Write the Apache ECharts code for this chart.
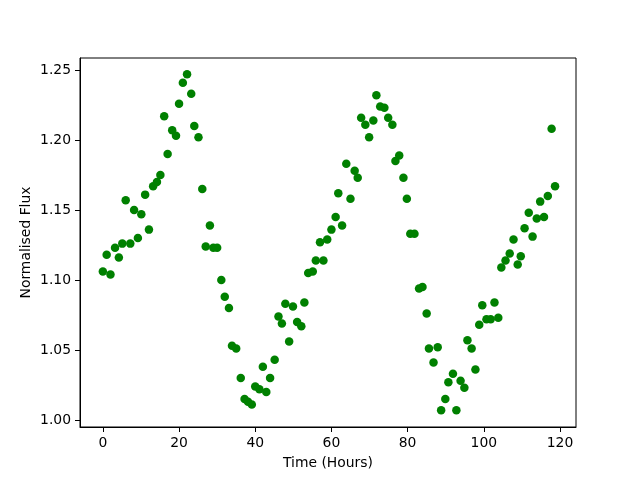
<!DOCTYPE html>
<html>
<head>
<meta charset="utf-8">
<script src="https://cdn.jsdelivr.net/npm/echarts@6/dist/echarts.min.js"></script>
<style>
  html, body { margin: 0; padding: 0; background: #fff; }
  #chart { width: 640px; height: 480px; }
</style>
</head>
<body>
<div id="chart"></div>
<script>
// time of each sample, hours
const hours = [
  0.0, 1.0, 2.0, 3.2, 4.2, 5.1, 6.0, 7.2, 8.2, 9.2,
  10.1, 11.1, 12.1, 13.2, 14.2, 15.1, 16.1, 17.0, 18.2, 19.2,
  20.0, 21.0, 22.1, 23.2, 24.0, 25.1, 26.1, 27.0, 28.1, 29.0,
  30.0, 31.1, 32.0, 33.1, 33.9, 35.0, 36.2, 37.2, 38.1, 39.1,
  40.0, 41.1, 42.0, 42.9, 43.9, 45.1, 46.1, 47.0, 47.9, 48.9,
  49.9, 51.0, 52.1, 52.9, 53.9, 55.1, 55.9, 57.0, 57.9, 58.9,
  60.0, 61.1, 61.8, 62.8, 63.9, 65.0, 66.1, 66.9, 67.8, 68.9,
  69.9, 71.0, 71.8, 72.8, 73.9, 74.9, 76.0, 76.8, 77.8, 78.9,
  79.8, 80.7, 81.8, 83.0, 83.9, 85.0, 85.6, 86.8, 87.9, 88.8,
  89.9, 90.7, 91.9, 92.8, 93.9, 94.9, 95.7, 96.8, 97.8, 98.8,
  99.6, 100.7, 101.8, 102.8, 103.8, 104.6, 105.7, 106.8, 107.8, 108.9,
  109.7, 110.7, 111.8, 112.8, 113.9, 114.8, 115.8, 116.8, 117.8, 118.7
];

// normalised flux at each sample
const flux = [
  1.106, 1.118, 1.104, 1.123, 1.116, 1.126, 1.157, 1.126, 1.150, 1.130,
  1.147, 1.161, 1.136, 1.167, 1.170, 1.175, 1.217, 1.190, 1.207, 1.203,
  1.226, 1.241, 1.247, 1.233, 1.210, 1.202, 1.165, 1.124, 1.139, 1.123,
  1.123, 1.100, 1.088, 1.080, 1.053, 1.051, 1.030, 1.015, 1.013, 1.011,
  1.024, 1.022, 1.038, 1.020, 1.030, 1.043, 1.074, 1.069, 1.083, 1.056,
  1.081, 1.070, 1.067, 1.084, 1.105, 1.106, 1.114, 1.127, 1.114, 1.129,
  1.136, 1.145, 1.162, 1.139, 1.183, 1.158, 1.178, 1.173, 1.216, 1.211,
  1.202, 1.214, 1.232, 1.224, 1.223, 1.216, 1.211, 1.185, 1.189, 1.173,
  1.158, 1.133, 1.133, 1.094, 1.095, 1.076, 1.051, 1.041, 1.052, 1.007,
  1.015, 1.027, 1.033, 1.007, 1.028, 1.023, 1.057, 1.051, 1.036, 1.068,
  1.082, 1.072, 1.072, 1.084, 1.073, 1.109, 1.114, 1.119, 1.129, 1.111,
  1.117, 1.137, 1.148, 1.131, 1.144, 1.156, 1.145, 1.160, 1.208, 1.167
];

const xTicks = [0, 20, 40, 60, 80, 100, 120];
const yTicks = [1.00, 1.05, 1.10, 1.15, 1.20, 1.25];

const points = hours.map((h, i) => [h, flux[i]]);

const font = 'DejaVu Sans';
const chart = echarts.init(document.getElementById('chart'), null, {renderer: 'canvas'});

const option = {
    animation: false,
    backgroundColor: '#fff',
    grid: {
        left: 80,
        right: 64,
        top: 58,
        bottom: 53,
        show: true,
        borderColor: '#000',
        borderWidth: 1,
        backgroundColor: 'transparent'
    },
    xAxis: {
        type: 'value',
        min: -6,
        max: 124.2,
        name: 'Time (Hours)',
        nameLocation: 'middle',
        nameGap: 29,
        nameMoveOverlap: false,
        nameTextStyle: {fontFamily: font, fontSize: 13.9, color: '#000'},
        axisLine: {show: true, onZero: false, lineStyle: {color: '#000', width: 1}},
        axisTick: {show: true, length: 5, inside: false, customValues: xTicks, lineStyle: {color: '#000'}},
        axisLabel: {
            customValues: xTicks,
            margin: 9,
            fontFamily: font,
            fontSize: 13.9,
            color: '#000',
            formatter: v => String(v)
        },
        splitLine: {show: false}
    },
    yAxis: {
        type: 'value',
        min: 0.995,
        max: 1.2586,
        name: 'Normalised Flux',
        nameLocation: 'middle',
        nameGap: 47,
        nameMoveOverlap: false,
        nameTextStyle: {fontFamily: font, fontSize: 13.9, color: '#000'},
        axisLine: {show: true, onZero: false, lineStyle: {color: '#000', width: 1}},
        axisTick: {show: true, length: 5, inside: false, customValues: yTicks, lineStyle: {color: '#000'}},
        axisLabel: {
            customValues: yTicks,
            margin: 9,
            fontFamily: font,
            fontSize: 13.9,
            color: '#000',
            formatter: v => v.toFixed(2)
        },
        splitLine: {show: false}
    },
    series: [{
        type: 'scatter',
        data: points,
        symbol: 'circle',
        symbolSize: 8.5,
        itemStyle: {color: '#008000', opacity: 1},
        emphasis: {disabled: true}
    }]
};

chart.setOption(option);
</script>
</body>
</html>
